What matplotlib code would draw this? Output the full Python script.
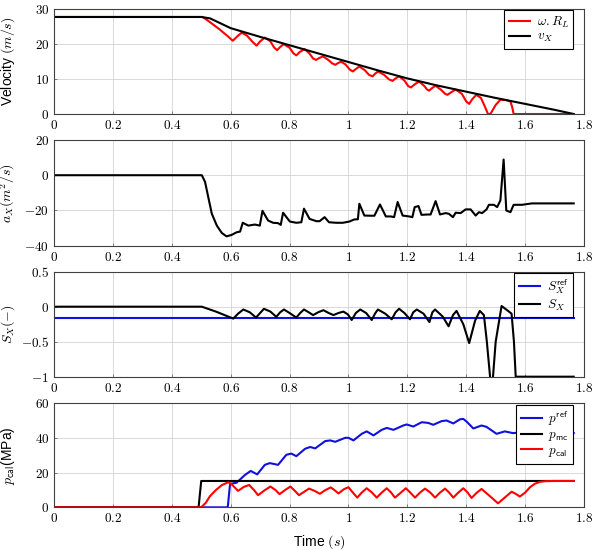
import matplotlib
matplotlib.use("Agg")
import matplotlib.pyplot as plt
from matplotlib.ticker import FuncFormatter

plt.rcParams["font.family"] = ["Liberation Sans", "DejaVu Sans"]
plt.rcParams["mathtext.fontset"] = "cm"

# --- hodnoty ---
# rychlosti
t_vx = [0.0, 0.50, 0.53, 0.56, 0.60, 0.70, 0.80, 0.90, 1.00, 1.10, 1.20, 1.30, 1.40, 1.50, 1.60, 1.70, 1.765]
vx = [27.8, 27.8, 27.4, 26.2, 24.6, 22.1, 19.7, 17.3, 14.9, 12.5, 10.2, 8.2, 6.4, 4.6, 2.9, 1.2, 0.0]

t_wr = [0.0, 0.505, 0.53, 0.56, 0.59, 0.607, 0.622, 0.637, 0.655, 0.675, 0.688, 0.70, 0.716, 0.735,
        0.748, 0.758, 0.768, 0.78, 0.80, 0.813, 0.823, 0.835, 0.851, 0.868, 0.88, 0.89, 0.90, 0.913,
        0.93, 0.945, 0.955, 0.965, 0.975, 0.99, 1.005, 1.015, 1.025, 1.037, 1.055, 1.07, 1.082, 1.09,
        1.10, 1.12, 1.138, 1.15, 1.16, 1.172, 1.19, 1.203, 1.212, 1.225, 1.24, 1.258, 1.267, 1.274,
        1.285, 1.296, 1.315, 1.328, 1.336, 1.35, 1.364, 1.385, 1.40, 1.41, 1.42, 1.434, 1.45, 1.465,
        1.474, 1.482, 1.50, 1.516, 1.535, 1.55, 1.556, 1.561, 1.765]
wr = [27.8, 27.8, 26.3, 24.4, 22.3, 21.0, 22.2, 23.3, 22.5, 20.6, 19.6, 20.8, 21.9, 20.8,
      19.0, 18.3, 19.2, 20.0, 19.0, 17.4, 16.8, 17.8, 18.6, 17.3, 15.9, 15.5, 16.0, 16.5,
      15.6, 14.5, 14.1, 14.6, 15.0, 14.2, 12.7, 12.2, 12.9, 13.6, 12.6, 11.2, 10.8, 11.5,
      12.2, 11.3, 9.9, 9.5, 10.2, 10.8, 9.6, 8.0, 7.6, 8.5, 9.3, 8.0, 7.0, 6.7,
      7.5, 8.1, 6.9, 5.8, 5.5, 6.3, 7.0, 5.8, 3.6, 2.9, 4.2, 5.5, 4.6, 1.8,
      0.0, 0.0, 2.6, 4.1, 4.0, 3.6, 2.0, 0.0, 0.0]

# zrychleni
t_ax = [0.0, 0.502, 0.513, 0.525, 0.536, 0.553, 0.570, 0.586, 0.603, 0.620, 0.632, 0.641, 0.660,
        0.682, 0.699, 0.708, 0.727, 0.744, 0.761, 0.770, 0.778, 0.801, 0.823, 0.840, 0.849, 0.868,
        0.891, 0.902, 0.919, 0.934, 0.958, 0.981, 1.003, 1.020, 1.032, 1.037, 1.054, 1.077, 1.088,
        1.107, 1.127, 1.144, 1.155, 1.167, 1.184, 1.206, 1.217, 1.225, 1.238, 1.248, 1.268, 1.279,
        1.296, 1.311, 1.330, 1.341, 1.355, 1.364, 1.381, 1.398, 1.415, 1.432, 1.443, 1.454, 1.469,
        1.477, 1.494, 1.505, 1.516, 1.527, 1.536, 1.550, 1.561, 1.589, 1.623, 1.657, 1.765]
ax_vals = [0.0, 0.0, -3.8, -13.3, -21.9, -28.6, -32.8, -34.7, -33.9, -32.4, -32.0, -27.0, -28.6,
           -28.0, -28.6, -20.2, -25.7, -27.0, -27.2, -28.2, -21.3, -26.3, -27.0, -26.7, -19.0, -24.8,
           -26.1, -26.1, -23.8, -26.7, -27.0, -27.0, -26.3, -25.1, -25.0, -16.2, -22.9, -23.0, -23.0,
           -16.6, -23.4, -23.4, -23.8, -15.2, -22.9, -23.4, -23.8, -18.1, -17.5, -22.5, -22.3, -22.3,
           -14.7, -22.3, -21.5, -21.9, -23.8, -21.3, -21.5, -19.4, -19.4, -22.9, -21.0, -21.5, -19.4,
           -16.8, -16.8, -18.1, -14.3, 8.9, -20.0, -21.0, -16.8, -16.8, -16.0, -16.0, -16.0]

# skluz
t_sx = [0.0, 0.502, 0.55, 0.60, 0.609, 0.625, 0.643, 0.665, 0.686, 0.70, 0.713, 0.735, 0.755,
        0.768, 0.781, 0.80, 0.823, 0.836, 0.849, 0.865, 0.88, 0.897, 0.915, 0.933, 0.949, 0.966,
        0.983, 0.998, 1.011, 1.025, 1.04, 1.06, 1.079, 1.09, 1.10, 1.125, 1.147, 1.16, 1.172, 1.19,
        1.209, 1.22, 1.232, 1.255, 1.275, 1.285, 1.294, 1.32, 1.34, 1.355, 1.367, 1.39, 1.41, 1.43,
        1.446, 1.46, 1.47, 1.482, 1.49, 1.50, 1.52, 1.542, 1.554, 1.562, 1.568, 1.765]
sx = [0.0, 0.0, -0.07, -0.155, -0.17, -0.10, -0.04, -0.08, -0.155, -0.09, -0.03, -0.07, -0.145,
      -0.08, -0.04, -0.09, -0.155, -0.09, -0.04, -0.08, -0.12, -0.08, -0.05, -0.09, -0.12, -0.09,
      -0.07, -0.11, -0.19, -0.09, -0.04, -0.09, -0.19, -0.10, -0.04, -0.10, -0.18, -0.08, -0.03, -0.09,
      -0.18, -0.08, -0.04, -0.10, -0.22, -0.08, -0.04, -0.14, -0.28, -0.12, -0.06, -0.25, -0.52, -0.20,
      -0.06, -0.12, -0.50, -1.05, -1.05, -0.50, 0.01, -0.06, -0.10, -0.50, -1.0, -1.0]
t_sref = [0.0, 1.765]
sref = [-0.165, -0.165]

# tlaky
t_pmc = [0.0, 0.491, 0.50, 1.765]
pmc = [0.0, 0.0, 15.2, 15.2]

t_pref = [0.0, 0.590, 0.598, 0.62, 0.648, 0.668, 0.69, 0.716, 0.733, 0.761, 0.789, 0.806, 0.823,
          0.853, 0.870, 0.887, 0.921, 0.938, 0.955, 0.989, 1.0, 1.017, 1.045, 1.062, 1.085, 1.113,
          1.130, 1.153, 1.186, 1.198, 1.220, 1.249, 1.271, 1.288, 1.316, 1.333, 1.356, 1.379, 1.390,
          1.401, 1.424, 1.452, 1.469, 1.503, 1.531, 1.559, 1.60, 1.65, 1.70, 1.765]
pref = [0.0, 0.0, 13.5, 14.2, 18.6, 21.0, 19.0, 24.5, 25.5, 24.5, 30.3, 31.0, 29.5,
        33.8, 34.8, 34.0, 38.2, 38.6, 37.8, 40.1, 40.1, 38.6, 42.4, 43.8, 41.5, 44.7,
        45.8, 44.7, 47.2, 47.8, 46.6, 49.1, 48.7, 47.6, 49.7, 50.1, 48.4, 50.8, 51.0,
        49.5, 45.5, 47.2, 46.4, 42.4, 43.8, 42.8, 43.5, 42.5, 43.5, 42.8]

t_pcal = [0.0, 0.50, 0.515, 0.53, 0.55, 0.57, 0.592, 0.605, 0.625, 0.645, 0.663, 0.68, 0.693,
          0.715, 0.735, 0.752, 0.766, 0.785, 0.803, 0.818, 0.832, 0.85, 0.866, 0.885, 0.903, 0.92,
          0.94, 0.952, 0.966, 0.985, 1.0, 1.015, 1.03, 1.045, 1.062, 1.08, 1.096, 1.113, 1.13,
          1.145, 1.158, 1.178, 1.195, 1.21, 1.226, 1.243, 1.26, 1.278, 1.294, 1.311, 1.328, 1.342,
          1.356, 1.373, 1.39, 1.405, 1.418, 1.435, 1.452, 1.48, 1.508, 1.53, 1.554, 1.568, 1.582,
          1.60, 1.616, 1.633, 1.65, 1.67, 1.70, 1.765]
pcal = [0.0, 0.0, 2.5, 6.5, 10.0, 12.8, 14.5, 13.0, 9.5, 11.8, 12.9, 9.8, 7.0,
        9.8, 12.0, 10.0, 7.6, 10.0, 12.0, 9.5, 7.0, 9.0, 10.8, 9.5, 7.8, 9.8,
        11.5, 10.0, 8.0, 10.5, 11.6, 8.5, 5.6, 8.5, 11.0, 8.5, 5.6, 8.5, 11.0,
        8.5, 5.6, 8.5, 11.0, 8.5, 5.6, 8.5, 10.8, 8.5, 5.6, 8.5, 10.8, 8.5,
        5.6, 8.5, 11.0, 8.5, 5.4, 8.3, 10.6, 6.5, 2.3, 5.5, 9.0, 7.8, 6.2,
        8.5, 11.5, 13.6, 14.7, 15.1, 15.2, 15.2]

xticks = [0, 0.2, 0.4, 0.6, 0.8, 1, 1.2, 1.4, 1.6, 1.8]

fig = plt.figure(figsize=(5.94, 5.5), dpi=100)
pozice = [
    [0.0909, 0.7927, 0.8923, 0.1904],
    [0.0909, 0.5533, 0.8923, 0.1922],
    [0.0909, 0.3151, 0.8923, 0.1909],
    [0.0909, 0.0776, 0.8923, 0.1891],
]
osy = [fig.add_axes(p) for p in pozice]

lw = 1.5
tex = FuncFormatter(lambda v, p: f"${v:g}$")

a1, a2, a3, a4 = osy
a1.plot(t_wr, wr, color="red", lw=lw, label=r"$\omega.R_L$")
a1.plot(t_vx, vx, color="black", lw=lw, label=r"$v_X$")
a1.set_ylim(0, 30)
a1.set_yticks([0, 10, 20, 30])
a1.set_ylabel(r"Velocity $(m/s)$", fontsize=10)

a2.plot(t_ax, ax_vals, color="black", lw=lw)
a2.set_ylim(-40, 20)
a2.set_yticks([-40, -20, 0, 20])
a2.set_ylabel(r"$a_X(m^2/s)$", fontsize=10)

a3.plot(t_sref, sref, color="#1010e0", lw=lw, label=r"$S_X^{\mathsf{ref}}$")
a3.plot(t_sx, sx, color="black", lw=lw, label=r"$S_X$")
a3.set_ylim(-1, 0.5)
a3.set_yticks([-1, -0.5, 0, 0.5])
a3.set_ylabel(r"$S_X(-)$", fontsize=10)

a4.plot(t_pref, pref, color="#1010e0", lw=lw, label=r"$p^{\mathsf{ref}}$")
a4.plot(t_pmc, pmc, color="black", lw=lw, label=r"$p_{\mathsf{mc}}$")
a4.plot(t_pcal, pcal, color="red", lw=lw, label=r"$p_{\mathsf{cal}}$")
a4.set_ylim(0, 60)
a4.set_yticks([0, 20, 40, 60])
a4.set_ylabel(r"$p_{\mathsf{cal}}$(MPa)", fontsize=10)
a4.set_xlabel(r"Time $(s)$", fontsize=10, labelpad=6)

for a in osy:
    a.set_xlim(0, 1.8)
    a.set_xticks(xticks)
    a.xaxis.set_major_formatter(tex)
    a.yaxis.set_major_formatter(tex)
    a.tick_params(labelsize=9.5, direction="in", length=2.5, width=0.5, color="0.35")
    a.grid(True, color="#d3d3d3", lw=0.6)
    a.set_axisbelow(True)
    for s in a.spines.values():
        s.set_color("0.25")
        s.set_linewidth(0.8)
    a.yaxis.set_label_coords(-0.07, 0.5)

leg_kw = dict(loc="upper right", fontsize=9.5, fancybox=False, framealpha=1, edgecolor="black",
              borderaxespad=0, handlelength=1.6, handletextpad=0.5, labelspacing=0.1, borderpad=0.35)
for a, top in [(a1, 0.995), (a3, 0.99), (a4, 0.985)]:
    lg = a.legend(bbox_to_anchor=(0.98, top), **leg_kw)
    lg.get_frame().set_linewidth(0.8)

plt.savefig("out.png", dpi=100)
plt.close()
